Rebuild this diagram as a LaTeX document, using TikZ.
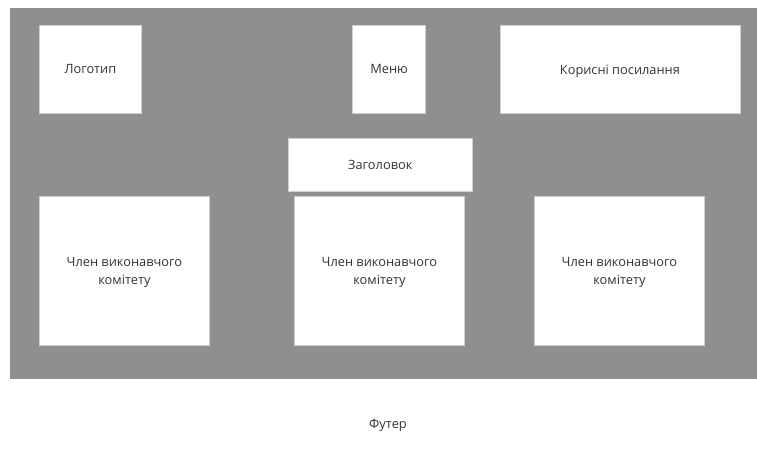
\documentclass[tikz,border=0pt]{standalone}
\usepackage{fontspec}
\setmainfont{Open Sans}
\usetikzlibrary{positioning}
\definecolor{pagegray}{HTML}{8F8F8F}
\definecolor{boxline}{HTML}{CFCFCF}
\definecolor{labeltext}{HTML}{333333}
\tikzset{
  blockbox/.style={draw=boxline, line width=0.6pt, fill=white, anchor=north west,
    align=center, inner sep=0pt, text depth=0pt, text=labeltext,
    font=\fontsize{9.6}{13.5}\selectfont},
  footlabel/.style={text=labeltext, font=\fontsize{9.6}{13.5}\selectfont},
}

\begin{document}
\begin{tikzpicture}[x=0.75pt, y=-0.75pt]
  \useasboundingbox (0,0) rectangle (757,464);
  \fill[white] (0,0) rectangle (757,464);
  \fill[pagegray] (10,8) rectangle (757,379);
  % top row
  \node[blockbox, minimum width=76.5pt, minimum height=66pt] (logo) at (39,25) {Логотип};
  \node[blockbox, minimum width=55pt, minimum height=66pt] (menu) at (352,25) {Меню};
  \node[blockbox, minimum width=180pt, minimum height=66pt] (links) at (499.5,25) {Корисні посилання};
  % title
  \node[blockbox, minimum width=138.5pt, minimum height=40pt] (title) at (287.5,137.5) {Заголовок};
  % members
  \node[blockbox, minimum width=127.5pt, minimum height=112pt] (memberA) at (39,196) {Член виконавчого\\комітету};
  \node[blockbox, minimum width=127.5pt, minimum height=112pt] (memberB) at (294,196) {Член виконавчого\\комітету};
  \node[blockbox, minimum width=127.5pt, minimum height=112pt] (memberC) at (534,196) {Член виконавчого\\комітету};
  \node[footlabel] (footer) at (388,425) {Футер};
\end{tikzpicture}
\end{document}
